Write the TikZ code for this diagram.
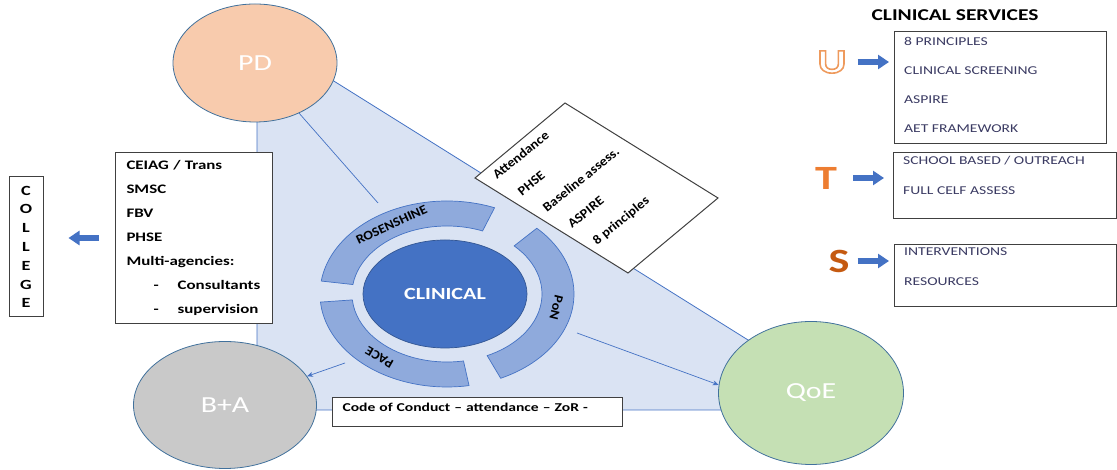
\documentclass[tikz,border=0pt]{standalone}
\usepackage{fontspec}
\setmainfont[FakeStretch=1.3]{Carlito}
\newfontfamily\tiltfont[FakeStretch=1.1]{Carlito}
\newcommand\hollow[1]{\special{pdf:literal direct 1 Tr 1.6 w 0.933 0.604 0.365 RG}#1\special{pdf:literal direct 0 Tr}}
\usetikzlibrary{arrows.meta,calc,shapes.geometric}
\definecolor{tri}{HTML}{DAE3F3}
\definecolor{edge}{HTML}{4472C4}
\definecolor{ring}{HTML}{8FAADC}
\definecolor{rim}{HTML}{41719C}
\definecolor{pdfill}{HTML}{F8CBAD}
\definecolor{bafill}{HTML}{C9C9C9}
\definecolor{qoefill}{HTML}{C5E0B4}
\definecolor{torange}{HTML}{ED7D31}
\definecolor{sorange}{HTML}{C55A11}
\definecolor{svctext}{HTML}{3B3B63}
\begin{document}
\begin{tikzpicture}[x=1pt,y=1pt,>={Stealth[length=6pt,width=5pt]},
	hub/.style={ellipse,draw=rim,line width=.8pt,text=white,inner sep=0pt,
		font=\fontsize{23}{23}\selectfont},
	seg/.style={draw=edge,fill=ring,line width=.7pt},
	seglabel/.style={font=\tiltfont\bfseries\fontsize{13}{13}\selectfont,inner sep=0pt},
	link/.style={draw=edge,line width=.7pt},
	listbox/.style={draw=black!75,fill=white,line width=1pt},
	svcitems/.style={align=left,inner sep=0pt,text=svctext},
	letter/.style={inner sep=0pt,font=\bfseries\fontsize{34}{34}\selectfont},
	blockarrow/.style={draw=edge,line width=6pt,-{Triangle[length=11pt,width=14pt]}}]
	\useasboundingbox (0,0) rectangle (1117,470);
	% triangle behind everything
	\draw[draw=edge,fill=tri,line width=.8pt] (257,437) -- (257,60) -- (860,60) -- cycle;
	\node[hub,fill=pdfill,minimum width=164pt,minimum height=118pt] (pd) at (255,407) {PD};
	\node[hub,fill=bafill,minimum width=183pt,minimum height=127pt] (ba) at (225,65) {B+A};
	\node[hub,fill=qoefill,minimum width=185pt,minimum height=143pt] (qoe) at (811,77) {QoE};
	% clinical ring
	\coordinate (c) at (447,176);
	\foreach \a/\b/\txt/\r in {68/172/ROSENSHINE/25,-65/45/PoN/-104,185/280/PACE/150}{
		\draw[seg] ($(c)+(\a:127 and 93)$) arc[start angle=\a,end angle=\b,x radius=127,y radius=93]
		-- ($(c)+(\b:95 and 68)$) arc[start angle=\b,end angle=\a,x radius=95,y radius=68] -- cycle;
		\node[seglabel,rotate=\r] at ($(c)+({(\a+\b)/2}:111 and 80)$) {\txt};
	}
	\node[ellipse,fill=edge,draw=edge!75!black,line width=.7pt,minimum width=164pt,minimum height=108pt,
	text=white,font=\bfseries\fontsize{17}{17}\selectfont] (clin) at (445,176) {CLINICAL};
	\coordinate (rs) at (378,267);
	\coordinate (pa) at (345,107);
	\coordinate (pq) at (577,137);
	\draw[link] (pd) -- (rs);
	\draw[link,->] (pa) -- (ba);
	\draw[link,->] (pq) -- (qoe.175);
	% tilted box
	\draw[listbox] (475,292) -- (565,367) -- (718,272) -- (628,197) -- cycle;
	\foreach \t [count=\i from 0] in {Attendance,PHSE,Baseline assess.,ASPIRE,8 principles}
	\node[anchor=base west,rotate=39,inner sep=0pt,font=\tiltfont\bfseries\fontsize{13}{13}\selectfont]
	at ($(497,290)+\i*(25,-16.3)$) {\t};
	% left side
	\node[listbox,anchor=north west,text width=135pt,inner xsep=11pt,minimum height=171pt,align=left,
	font=\bfseries\fontsize{13}{24}\selectfont] (extras) at (115,318)
	{CEIAG / Trans\\SMSC\\FBV\\PHSE\\Multi-agencies:\\
		\hspace*{27pt}-\hspace{19pt}Consultants\\\hspace*{27pt}-\hspace{19pt}supervision};
	\node[listbox,minimum width=34pt,minimum height=140pt,inner sep=0pt,align=center,
	font=\bfseries\fontsize{14}{18.8}\selectfont] (college) at (26,223) {C\\O\\L\\L\\E\\G\\E};
	\draw[blockarrow,shorten <=16pt,shorten >=25pt] (extras.west) -- (college.east |- extras.west);
	\node[listbox,anchor=north west,text width=270pt,inner xsep=10pt,inner ysep=3pt,
	text height=11pt,text depth=12pt,align=left,font=\bfseries\fontsize{12}{12}\selectfont]
	(conduct) at (332,73) {Code of Conduct – attendance – ZoR -};
	% clinical services
	\node[font=\bfseries\fontsize{16.5}{16.5}\selectfont] (svc) at (955,455) {CLINICAL SERVICES};
	\node[listbox,anchor=north west,minimum width=212pt,minimum height=112pt] (ubox) at (894,439) {};
	\node[svcitems,anchor=north west,font=\fontsize{12}{29}\selectfont] at ([shift={(10pt,-6pt)}]ubox.north west)
	{8 PRINCIPLES\\CLINICAL SCREENING\\ASPIRE\\AET FRAMEWORK};
	\node[listbox,anchor=north west,minimum width=223pt,minimum height=66pt] (tbox) at (893,318) {};
	\node[svcitems,anchor=north west,font=\fontsize{12}{30}\selectfont] at ([shift={(10pt,-4pt)}]tbox.north west)
	{SCHOOL BASED / OUTREACH\\FULL CELF ASSESS};
	\node[listbox,anchor=north west,minimum width=222pt,minimum height=62pt] (sbox) at (894,226) {};
	\node[svcitems,anchor=north west,font=\fontsize{12}{30}\selectfont] at ([shift={(10pt,-4pt)}]sbox.north west)
	{INTERVENTIONS\\RESOURCES};
	\node[letter] (lu) at (832,408) {\hollow{U}};
	\node[letter,text=torange] (lt) at (826,292) {T};
	\node[letter,text=sorange] (ls) at (839,209) {S};
	\draw[blockarrow,shorten <=11pt,shorten >=5pt] (lu.east) -- (ubox.west |- lu.east);
	\draw[blockarrow,shorten <=16pt,shorten >=9pt] (lt.east) -- (tbox.west |- lt.east);
	\draw[blockarrow,shorten <=8pt,shorten >=5pt] (ls.east) -- (sbox.west |- ls.east);
\end{tikzpicture}
\end{document}
